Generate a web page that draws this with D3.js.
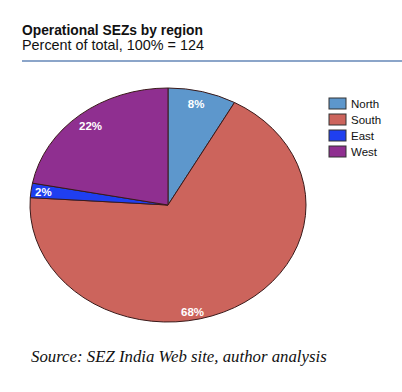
<!DOCTYPE html>
<meta charset="utf-8">
<script src="https://d3js.org/d3.v7.min.js"></script>
<style>
  body { margin: 0; background: #fff; }
</style>
<div id="my_dataviz"></div>
<script>

// data
var regions = ["North", "South", "East", "West"];
var shares = [8, 68, 2, 22];
var colors = ["#5d97cc", "#cc645c", "#1f3ff0", "#8f2f90"];
var title = "Operational SEZs by region";
var subtitle = "Percent of total, 100% = 124";
var source = "Source: SEZ India Web site, author analysis";

var width = 402, height = 392;

var svg = d3.select("#my_dataviz")
  .append("svg")
    .attr("width", width)
    .attr("height", height);

// header
svg.append("text")
    .attr("x", 22).attr("y", 35)
    .style("font-family", "Liberation Sans, Arial, sans-serif")
    .style("font-size", "13.8px")
    .style("font-weight", "bold")
    .style("fill", "#111")
    .text(title);
svg.append("text")
    .attr("x", 22).attr("y", 50)
    .style("font-family", "Liberation Sans, Arial, sans-serif")
    .style("font-size", "14.4px")
    .style("fill", "#111")
    .text(subtitle);
svg.append("rect")
    .attr("x", 22).attr("y", 60)
    .attr("width", width - 22).attr("height", 2)
    .style("fill", "#8ba5c9");

// the pie is drawn as a unit circle and stretched into an ellipse
var cx = 168, cy = 205, rx = 138, ry = 117;

var pie = d3.pie().sort(null).value(function(d){ return d; });
var arcs = pie(shares);
var arc = d3.arc().innerRadius(0).outerRadius(1);

var g = svg.append("g")
    .attr("transform", "translate(" + cx + "," + cy + ") scale(" + rx + "," + ry + ")");

g.selectAll("path")
  .data(arcs)
  .enter()
  .append("path")
    .attr("d", arc)
    .style("fill", function(d, i){ return colors[i]; })
    .style("stroke", "#3a1a1a")
    .style("stroke-width", 1)
    .attr("vector-effect", "non-scaling-stroke");

// labels: radius and small angle nudge so they sit where the original has them
var labelR = [0.89, 0.93, 0.91, 0.88];
var labelNudge = [-0.02, 0.31, 0, 0];
svg.selectAll("plabel")
  .data(arcs)
  .enter()
  .append("text")
    .attr("x", function(d, i){
      var a = (d.startAngle + d.endAngle) / 2 + labelNudge[i];
      return cx + Math.sin(a) * labelR[i] * rx; })
    .attr("y", function(d, i){
      var a = (d.startAngle + d.endAngle) / 2 + labelNudge[i];
      return cy - Math.cos(a) * labelR[i] * ry; })
    .attr("dy", "0.35em")
    .attr("text-anchor", "middle")
    .style("font-family", "Liberation Sans, Arial, sans-serif")
    .style("font-size", "11.5px")
    .style("font-weight", "bold")
    .style("fill", "#fff")
    .text(function(d){ return d.data + "%"; });

// legend
var legend = svg.selectAll("legend")
  .data(regions)
  .enter()
  .append("g")
    .attr("transform", function(d, i){ return "translate(329," + (98 + i * 16) + ")"; });
legend.append("rect")
    .attr("width", 17).attr("height", 11)
    .style("fill", function(d, i){ return colors[i]; })
    .style("stroke", "#333")
    .style("stroke-width", 1);
legend.append("text")
    .attr("x", 22).attr("y", 10)
    .style("font-family", "Liberation Sans, Arial, sans-serif")
    .style("font-size", "11.5px")
    .style("fill", "#111")
    .text(function(d){ return d; });

// source note
svg.append("text")
    .attr("x", 31).attr("y", 362)
    .style("font-family", "Liberation Serif, Times New Roman, serif")
    .style("font-size", "16.8px")
    .style("font-style", "italic")
    .style("fill", "#111")
    .text(source);
</script>
